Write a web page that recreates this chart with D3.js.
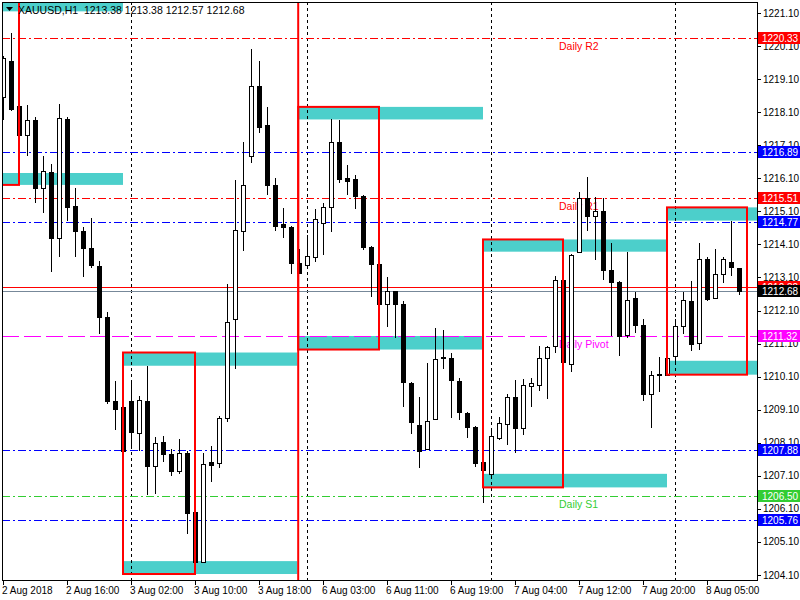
<!DOCTYPE html>
<html><head><meta charset="utf-8">
<script src="https://cdn.jsdelivr.net/npm/d3@7"></script>
<style>
body{margin:0;background:#fff}
svg{display:block}
text{font-family:"Liberation Sans",Arial,sans-serif}
</style>
</head><body>
<svg id="c" width="800" height="600"></svg>
<script>
// ---------- DATA ----------
const symbolTitle = "XAUUSD,H1";
const headerOHLC = ["1213.38", "1213.38", "1212.57", "1212.68"];

const opens = [1218.56,1219.65,1218.29,1217.41,1217.86,1215.81,1216.30,1214.29,1217.89,1215.26,
1214.50,1213.99,1213.46,1211.91,1209.37,1209.18,1209.37,1208.40,1209.37,1207.40,
1208.12,1207.77,1207.26,1207.79,1206.01,1204.49,1207.52,1207.48,1208.85,1211.85,
1214.50,1216.77,1218.88,1217.71,1215.90,1214.73,1214.64,1213.54,1213.48,1213.72,
1214.76,1215.24,1217.20,1216.12,1216.08,1215.55,1214.02,1213.51,1212.29,1212.68,
1212.31,1209.92,1208.65,1207.91,1208.80,1210.66,1210.67,1209.98,1209.01,1208.58,
1207.52,1207.16,1208.26,1208.64,1209.47,1208.56,1209.82,1209.85,1210.67,1211.01,
1213.02,1210.49,1213.88,1215.50,1214.96,1215.11,1213.33,1212.96,1211.38,1212.48,
1211.66,1209.58,1210.15,1210.16,1210.72,1211.64,1212.40,1211.13,1213.67,1212.46,
1213.23,1213.57,1213.38];
const highs = [1219.80,1220.50,1218.71,1218.33,1217.95,1216.77,1216.53,1218.35,1217.94,1215.81,
1214.64,1214.90,1213.60,1212.06,1209.98,1209.22,1209.90,1209.50,1210.41,1208.26,
1208.31,1207.91,1208.21,1207.85,1207.31,1207.79,1208.00,1208.91,1212.89,1216.06,
1217.20,1220.01,1219.65,1218.26,1216.12,1215.21,1214.66,1213.97,1214.39,1215.18,
1215.35,1217.88,1217.86,1216.50,1216.21,1215.59,1214.05,1213.55,1213.11,1212.70,
1212.40,1209.95,1209.49,1210.50,1211.58,1211.52,1210.82,1210.07,1209.03,1208.60,
1207.85,1208.56,1208.88,1209.56,1210.01,1210.04,1210.07,1211.04,1211.04,1213.14,
1213.11,1213.82,1215.70,1216.15,1215.53,1215.50,1214.14,1212.98,1213.86,1212.65,
1211.85,1210.27,1210.70,1210.88,1211.83,1212.65,1213.00,1214.13,1213.72,1213.97,
1213.73,1214.82,1213.38];
const lows = [1217.86,1218.15,1217.06,1216.77,1215.35,1215.04,1213.27,1213.72,1214.82,1213.72,
1213.11,1213.40,1211.38,1209.28,1208.49,1207.13,1208.00,1207.85,1206.52,1206.55,
1207.53,1207.08,1207.16,1205.35,1204.45,1204.45,1206.90,1207.34,1208.74,1210.33,
1213.90,1216.55,1217.46,1215.60,1214.50,1214.28,1213.20,1213.20,1213.45,1213.57,
1213.77,1214.48,1215.96,1215.59,1215.18,1213.93,1212.51,1211.34,1211.60,1211.27,
1209.18,1208.37,1207.34,1207.88,1208.78,1210.33,1208.85,1208.79,1208.25,1207.37,
1206.28,1207.07,1208.19,1208.03,1207.80,1208.33,1209.18,1209.67,1209.42,1210.82,
1210.50,1210.24,1213.86,1214.50,1213.63,1213.02,1211.34,1210.72,1211.28,1211.43,
1209.36,1208.56,1209.65,1210.16,1210.54,1211.40,1210.88,1210.92,1212.38,1212.46,
1212.93,1213.14,1212.57];
const closes = [1219.74,1218.20,1217.41,1217.86,1215.81,1216.32,1214.29,1217.92,1215.23,1214.50,
1213.99,1213.48,1211.91,1209.37,1209.12,1207.85,1208.43,1209.40,1207.40,1208.10,
1207.76,1207.26,1207.79,1205.98,1204.49,1207.46,1207.44,1208.85,1211.75,1214.54,
1215.90,1218.88,1217.63,1215.90,1214.67,1214.65,1213.54,1213.23,1213.75,1214.87,
1215.24,1217.20,1216.08,1216.04,1215.56,1214.02,1213.51,1212.29,1212.69,1212.29,
1209.94,1208.74,1207.85,1208.76,1210.63,1210.70,1210.00,1209.03,1208.59,1207.49,
1207.28,1208.30,1208.70,1209.47,1208.52,1209.85,1209.90,1210.67,1211.01,1213.02,
1210.53,1213.79,1215.50,1214.96,1215.11,1213.33,1212.96,1211.34,1212.43,1211.66,
1209.58,1210.15,1210.18,1210.67,1211.64,1212.42,1211.09,1213.67,1212.46,1213.20,
1213.67,1213.43,1212.68];

// time axis
const timeTickBars = [0, 8, 16, 24, 32, 40, 48, 56, 64, 72, 80, 88];
const timeLabels = ["2 Aug 2018","2 Aug 16:00","3 Aug 02:00","3 Aug 10:00","3 Aug 18:00","6 Aug 03:00",
                    "6 Aug 11:00","6 Aug 19:00","7 Aug 04:00","7 Aug 12:00","7 Aug 20:00","8 Aug 05:00"];
const daySeparatorBars = [16, 38, 61, 84];

// price axis
const priceTicks = [1204.10,1205.10,1206.10,1207.10,1208.10,1209.10,1210.10,1211.10,1212.10,
                    1213.10,1214.10,1215.10,1216.10,1217.10,1218.10,1219.10,1220.10,1221.10];

// pivot levels
const levelValues = [1220.33, 1216.89, 1215.51, 1214.77, 1211.32, 1207.88, 1206.50, 1205.76];
const levelColors = ["#ff0000","#0000ff","#ff0000","#0000ff","#ff00ff","#0000ff","#32cd32","#0000ff"];
const levelNames  = ["Daily R2","","Daily R1","","Daily Pivot","","Daily S1",""];
const levelKinds  = ["dashdot","dashdot","dashdot","dashdot","dash","dashdot","dashdot","dashdot"];
const levelLabelBar = 69.5;

// bid / ask
const bidPrice = 1212.68;
const askPrice = 1212.82;

// session boxes (bar indices and prices)
const boxStart  = [-9, 15, 36.9, 60, 83];
const boxEnd    = [2, 24, 47, 70, 93];
const zoneEnd   = [15, 36.8, 60, 83, 96];
const hiZoneTop = [1221.60, 1210.83, 1218.26, 1214.25, 1215.22];
const hiZoneBot = [1221.15, 1210.43, 1217.88, 1213.88, 1214.82];
const loZoneTop = [1216.26, 1204.52, 1211.33, 1207.16, 1210.58];
const loZoneBot = [1215.90, 1204.13, 1210.92, 1206.75, 1210.16];
const fullHeightLineBars = [36.9];

// ---------- LAYOUT ----------
const plot = {left: 2, right: 757, top: 2, bottom: 580};
const x = d3.scaleLinear().domain([0, 92]).range([3, 739]);
const y = d3.scaleLinear().domain([1204.10, 1221.10]).range([575, 13]);

const svg = d3.select("#c");
svg.append("defs").append("clipPath").attr("id","clip")
  .append("rect").attr("x", plot.left).attr("y", plot.top)
  .attr("width", plot.right - plot.left).attr("height", plot.bottom - plot.top);

const g = svg.append("g").attr("clip-path","url(#clip)");
const px = v => Math.round(v) + 0.5;

// cyan zones
const zoneColor = "#4ccfcb";
boxStart.forEach((s, k) => {
  [[hiZoneTop[k], hiZoneBot[k]], [loZoneTop[k], loZoneBot[k]]].forEach(([t, b]) => {
    g.append("rect")
      .attr("x", x(s)).attr("y", y(t))
      .attr("width", x(zoneEnd[k]) - x(s)).attr("height", y(b) - y(t))
      .attr("fill", zoneColor);
  });
});

// day separators
g.selectAll(".sep").data(daySeparatorBars).enter().append("line")
  .attr("x1", d => px(x(d))).attr("x2", d => px(x(d)))
  .attr("y1", plot.top).attr("y2", plot.bottom)
  .attr("stroke", "#000").attr("stroke-width", 1).attr("stroke-dasharray", "3,3");

// levels
levelValues.forEach((v, k) => {
  g.append("line")
    .attr("x1", plot.left).attr("x2", plot.right)
    .attr("y1", px(y(v))).attr("y2", px(y(v)))
    .attr("stroke", levelColors[k]).attr("stroke-width", 1)
    .attr("stroke-dasharray", levelKinds[k] === "dash" ? "17,5" : "8,3,2,3");
  if (levelNames[k]) {
    g.append("text").attr("x", x(levelLabelBar)).attr("y", y(v) + 12)
      .attr("font-size", 10.5).attr("fill", levelColors[k]).text(levelNames[k]);
  }
});

// ask & bid lines
g.append("line").attr("x1", plot.left).attr("x2", plot.right)
  .attr("y1", px(y(askPrice))).attr("y2", px(y(askPrice)))
  .attr("stroke", "#ff0000").attr("stroke-width", 1);
g.append("line").attr("x1", plot.left).attr("x2", plot.right)
  .attr("y1", px(y(bidPrice))).attr("y2", px(y(bidPrice)))
  .attr("stroke", "#778899").attr("stroke-width", 1);

// candles
const idx = d3.range(opens.length);
const cg = g.append("g").attr("shape-rendering", "crispEdges");
cg.selectAll(".wick").data(idx).enter().append("line")
  .attr("x1", i => px(x(i))).attr("x2", i => px(x(i)))
  .attr("y1", i => y(highs[i])).attr("y2", i => y(lows[i]))
  .attr("stroke", "#000").attr("stroke-width", 1);
cg.selectAll(".body").data(idx).enter().append("rect")
  .attr("x", i => Math.round(x(i)) - 2 + 0.5)
  .attr("width", 4)
  .attr("y", i => Math.round(y(Math.max(opens[i], closes[i]))) + 0.5)
  .attr("height", i => Math.max(1, Math.round(Math.abs(y(opens[i]) - y(closes[i])))))
  .attr("fill", i => closes[i] >= opens[i] ? "#fff" : "#000")
  .attr("stroke", "#000").attr("stroke-width", 1);

// red session boxes
boxStart.forEach((s, k) => {
  g.append("rect")
    .attr("x", x(s)).attr("y", y(hiZoneTop[k]))
    .attr("width", x(boxEnd[k]) - x(s)).attr("height", y(loZoneBot[k]) - y(hiZoneTop[k]))
    .attr("fill", "none").attr("stroke", "#ff0000").attr("stroke-width", 2);
});
fullHeightLineBars.forEach(b => {
  g.append("line").attr("x1", x(b)).attr("x2", x(b))
    .attr("y1", plot.top).attr("y2", plot.bottom)
    .attr("stroke", "#ff0000").attr("stroke-width", 2);
});

// frame
svg.append("rect").attr("x", plot.left + 0.5).attr("y", plot.top + 0.5)
  .attr("width", plot.right - plot.left).attr("height", plot.bottom - plot.top)
  .attr("fill", "none").attr("stroke", "#000").attr("stroke-width", 1);

// right price axis
const ra = svg.append("g");
priceTicks.forEach(p => {
  ra.append("line").attr("x1", plot.right).attr("x2", plot.right + 4)
    .attr("y1", px(y(p))).attr("y2", px(y(p))).attr("stroke", "#000");
  ra.append("text").attr("x", plot.right + 6).attr("y", y(p) + 3.5)
    .attr("font-size", 10).attr("fill", "#000").text(p.toFixed(2));
});

// right colored labels
const tagValues = levelValues.concat([askPrice, bidPrice]);
const tagColors = levelColors.concat(["#ff0000", "#000000"]);
tagValues.forEach((v, k) => {
  ra.append("rect").attr("x", plot.right + 1).attr("y", Math.round(y(v)) - 6)
    .attr("width", 42).attr("height", 12).attr("fill", tagColors[k]);
  ra.append("text").attr("x", plot.right + 5).attr("y", Math.round(y(v)) + 4)
    .attr("font-size", 10).attr("fill", "#fff").text(v.toFixed(2));
});

// bottom time axis
const ba = svg.append("g");
timeTickBars.forEach((b, k) => {
  ba.append("line").attr("x1", px(x(b))).attr("x2", px(x(b)))
    .attr("y1", plot.bottom).attr("y2", plot.bottom + 5).attr("stroke", "#000");
  ba.append("text").attr("x", x(b) - 1).attr("y", 594)
    .attr("font-size", 10).attr("fill", "#000").text(timeLabels[k]);
});

// header
svg.append("path").attr("d", d3.line()([[6, 7], [13, 7], [9.5, 11]]) + "Z").attr("fill", "#000");
svg.append("text").attr("x", 18).attr("y", 14).attr("font-size", 10.5).attr("fill", "#000")
  .attr("xml:space", "preserve")
  .text(symbolTitle + "  " + headerOHLC.join(" "));
</script>
</body></html>
